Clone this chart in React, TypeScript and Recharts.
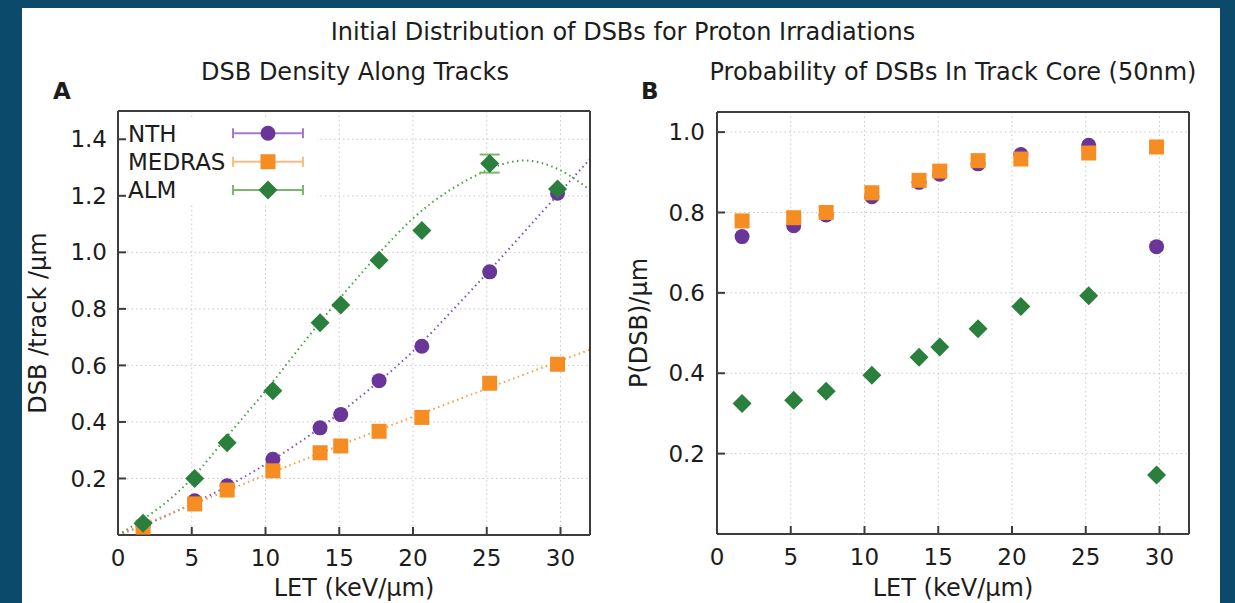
import React from 'react'
import {
  ComposedChart,
  Scatter,
  Line,
  XAxis,
  YAxis,
  CartesianGrid,
  ErrorBar,
} from 'recharts'

// LET values (keV/um) of the proton irradiations
const letValues = [1.7, 5.2, 7.4, 10.5, 13.7, 15.1, 17.7, 20.6, 25.2, 29.8]

// panel A: DSB per track per um
const densityNTH = [0.033, 0.121, 0.174, 0.268, 0.379, 0.426, 0.546, 0.668, 0.931, 1.209]
const densityMEDRAS = [0.028, 0.11, 0.159, 0.227, 0.291, 0.315, 0.367, 0.416, 0.537, 0.604]
const densityALM = [0.042, 0.2, 0.326, 0.51, 0.751, 0.814, 0.972, 1.077, 1.314, 1.224]
// only the 25 keV/um ALM point has an error bar larger than its marker
const densityALMErr = [0, 0, 0, 0, 0, 0, 0, 0, 0.032, 0]

// fitted curves (dotted)
const fitLET = [0, 2.5, 5, 7.5, 10, 12.5, 15, 17.5, 20, 22.5, 25, 27.5, 30, 32]
const fitNTH = [0, 0.05, 0.11, 0.175, 0.25, 0.335, 0.43, 0.535, 0.65, 0.785, 0.925, 1.07, 1.215, 1.33]
const fitALM = [0, 0.085, 0.2, 0.355, 0.51, 0.675, 0.835, 0.985, 1.12, 1.22, 1.29, 1.325, 1.29, 1.22]
const fitMEDRASLET = [0, 10, 20, 32]
const fitMEDRAS = [0, 0.212, 0.418, 0.656]

// panel B: P(DSB) in 50nm track core
const coreNTH = [0.74, 0.767, 0.794, 0.839, 0.875, 0.895, 0.921, 0.944, 0.967, 0.715]
const coreMEDRAS = [0.779, 0.787, 0.8, 0.849, 0.88, 0.903, 0.929, 0.933, 0.948, 0.963]
const coreALM = [0.325, 0.333, 0.355, 0.395, 0.44, 0.465, 0.511, 0.566, 0.593, 0.147]

const xTicks = [0, 5, 10, 15, 20, 25, 30]
const densityTicks = [0.2, 0.4, 0.6, 0.8, 1.0, 1.2, 1.4]
const coreTicks = [0.2, 0.4, 0.6, 0.8, 1.0]

const FONT = '"DejaVu Sans", sans-serif'
const INK = '#1c1c1c'
const FRAME = '#3c3c3c'
const PURPLE = '#6a3598'
const ORANGE = '#f68d22'
const GREEN = '#2b7f3c'
const PURPLE_LT = '#a47bc9'
const ORANGE_LT = '#fbbd7c'
const GREEN_LT = '#7cb770'

type Pt = { x: number; y: number; err?: number }
const zip = (xs: number[], ys: number[], errs?: number[]): Pt[] =>
  xs.map((x, i) => ({ x, y: ys[i], err: errs ? errs[i] : undefined }))

const circleShape = (color: string) => (p: any) =>
  <circle cx={p.cx} cy={p.cy} r={7.5} fill={color} />
const squareShape = (color: string) => (p: any) =>
  <rect x={p.cx - 7.5} y={p.cy - 7.5} width={15} height={15} fill={color} />
const diamondShape = (color: string) => (p: any) => (
  <path
    d={`M${p.cx},${p.cy - 9.5}L${p.cx + 9.5},${p.cy}L${p.cx},${p.cy + 9.5}L${p.cx - 9.5},${p.cy}Z`}
    fill={color}
  />
)
const emptyShape = () => <g />

const tickStyle = { fontSize: 23, fill: INK, fontFamily: FONT }
const frameLine = { stroke: FRAME, strokeWidth: 2 }
const noLabel = () => <g />

interface PanelProps {
  yDomain: [number, number]
  yTicks: number[]
  margin: { top: number; right: number; bottom: number; left: number }
  yTickMargin: number
  children: React.ReactNode
}

function Panel({ yDomain, yTicks, margin, yTickMargin, children }: PanelProps) {
  return (
    <ComposedChart width={570} height={503} margin={margin}>
      <CartesianGrid stroke="#c9c9c9" strokeDasharray="1.5 3" />
      <XAxis
        type="number"
        dataKey="x"
        domain={[0, 32]}
        ticks={xTicks}
        interval={0}
        allowDataOverflow
        height={60}
        tick={tickStyle}
        tickSize={-8}
        tickMargin={23}
        axisLine={frameLine}
        tickLine={frameLine}
      />
      <XAxis
        xAxisId="top"
        orientation="top"
        type="number"
        domain={[0, 32]}
        ticks={xTicks}
        interval={0}
        height={1}
        tick={noLabel}
        tickSize={-8}
        axisLine={frameLine}
        tickLine={frameLine}
      />
      <YAxis
        type="number"
        dataKey="y"
        domain={yDomain}
        ticks={yTicks}
        interval={0}
        allowDataOverflow
        width={60}
        tick={tickStyle}
        tickFormatter={(v: number) => v.toFixed(1)}
        tickSize={-8}
        tickMargin={yTickMargin}
        axisLine={frameLine}
        tickLine={frameLine}
      />
      <YAxis
        yAxisId="right"
        orientation="right"
        type="number"
        domain={yDomain}
        ticks={yTicks}
        interval={0}
        width={1}
        tick={noLabel}
        tickSize={-8}
        axisLine={frameLine}
        tickLine={frameLine}
      />
      {children}
    </ComposedChart>
  )
}

const fitLine = (data: Pt[], color: string) => (
  <Line
    data={data}
    dataKey="y"
    type="natural"
    stroke={color}
    strokeWidth={2}
    strokeDasharray="1.5 3.5"
    dot={false}
    activeDot={false}
    isAnimationActive={false}
  />
)

function LegendRow({ y, label, color, light, kind }: { y: number; label: string; color: string; light: string; kind: 'c' | 's' | 'd' }) {
  const cx = 268
  return (
    <g>
      <text x={128} y={y + 8.4} fontSize={23} fill={INK} fontFamily={FONT}>{label}</text>
      <line x1={233} x2={303} y1={y} y2={y} stroke={light} strokeWidth={2} />
      <line x1={233} x2={233} y1={y - 5} y2={y + 5} stroke={light} strokeWidth={2} />
      <line x1={303} x2={303} y1={y - 5} y2={y + 5} stroke={light} strokeWidth={2} />
      {kind === 'c' && <circle cx={cx} cy={y} r={7.5} fill={color} />}
      {kind === 's' && <rect x={cx - 7.5} y={y - 7.5} width={15} height={15} fill={color} />}
      {kind === 'd' && (
        <path d={`M${cx},${y - 9.5}L${cx + 9.5},${y}L${cx},${y + 9.5}L${cx - 9.5},${y}Z`} fill={color} />
      )}
    </g>
  )
}

export default function App() {
  const almDensity = zip(letValues, densityALM, densityALMErr)
  const almErrPoints = almDensity.filter((d) => (d.err ?? 0) > 0)
  return (
    <div style={{ position: 'absolute', left: 0, top: 0, width: 1235, height: 603, background: '#0c4a6b', overflow: 'hidden' }}>
      <div style={{ position: 'absolute', left: 22, top: 8, width: 1198, height: 600, background: '#fff' }} />

      <div style={{ position: 'absolute', left: 40, top: 100 }}>
        <Panel yDomain={[0, 1.5]} yTicks={densityTicks} yTickMargin={19} margin={{ top: 10, right: 19, bottom: 8, left: 18 }}>
          {fitLine(zip(fitLET, fitNTH), '#8150b0')}
          {fitLine(zip(fitMEDRASLET, fitMEDRAS), '#f89a3a')}
          {fitLine(zip(fitLET, fitALM), '#4f9a47')}
          <Scatter data={zip(letValues, densityNTH)} dataKey="y" shape={circleShape(PURPLE)} isAnimationActive={false} />
          <Scatter data={zip(letValues, densityMEDRAS)} dataKey="y" shape={squareShape(ORANGE)} isAnimationActive={false} />
          <Scatter data={almErrPoints} dataKey="y" shape={emptyShape} isAnimationActive={false}>
            <ErrorBar dataKey="err" direction="y" width={10} stroke={GREEN_LT} strokeWidth={2} />
          </Scatter>
          <Scatter data={almDensity} dataKey="y" shape={diamondShape(GREEN)} isAnimationActive={false} />
        </Panel>
      </div>

      <div style={{ position: 'absolute', left: 640, top: 100 }}>
        <Panel yDomain={[0, 1.05]} yTicks={coreTicks} yTickMargin={20} margin={{ top: 11, right: 20, bottom: 9, left: 17 }}>
          <Scatter data={zip(letValues, coreNTH)} dataKey="y" shape={circleShape(PURPLE)} isAnimationActive={false} />
          <Scatter data={zip(letValues, coreMEDRAS)} dataKey="y" shape={squareShape(ORANGE)} isAnimationActive={false} />
          <Scatter data={zip(letValues, coreALM)} dataKey="y" shape={diamondShape(GREEN)} isAnimationActive={false} />
        </Panel>
      </div>

      <svg width={1235} height={603} style={{ position: 'absolute', left: 0, top: 0, pointerEvents: 'none' }}>
        <g fontFamily={FONT} fill={INK} fontSize={24}>
          <text x={623} y={40} textAnchor="middle">Initial Distribution of DSBs for Proton Irradiations</text>
          <text x={355} y={80} textAnchor="middle">DSB Density Along Tracks</text>
          <text x={953} y={80} textAnchor="middle">Probability of DSBs In Track Core (50nm)</text>
          <text x={53} y={99} fontWeight="bold" fontSize={23}>A</text>
          <text x={641} y={99} fontWeight="bold" fontSize={23}>B</text>
          <text x={354} y={596} textAnchor="middle">LET (keV/µm)</text>
          <text x={953} y={596} textAnchor="middle">LET (keV/µm)</text>
          <text transform="translate(45.5,323) rotate(-90)" textAnchor="middle">DSB /track /µm</text>
          <text transform="translate(647,323) rotate(-90)" textAnchor="middle">P(DSB)/µm</text>
        </g>
        <rect x={127} y={120} width={190} height={85} fill="#fff" />
        <LegendRow y={133.3} label="NTH" color={PURPLE} light={PURPLE_LT} kind="c" />
        <LegendRow y={161.7} label="MEDRAS" color={ORANGE} light={ORANGE_LT} kind="s" />
        <LegendRow y={190} label="ALM" color={GREEN} light={GREEN_LT} kind="d" />
      </svg>
    </div>
  )
}
